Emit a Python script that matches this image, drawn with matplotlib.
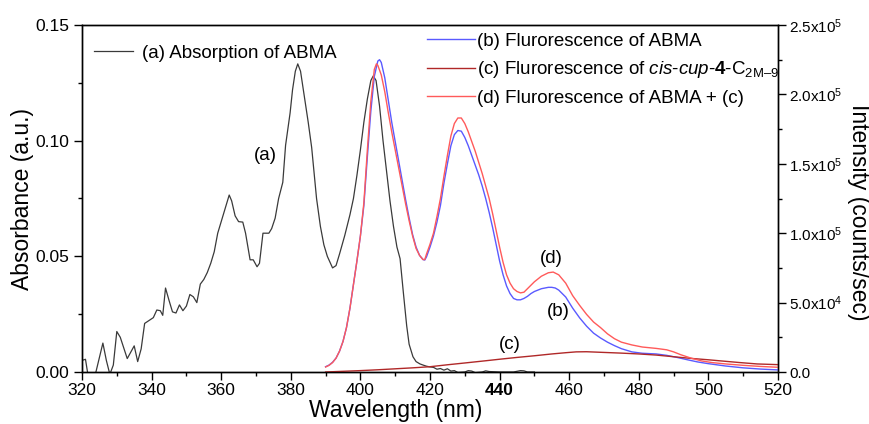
import matplotlib
matplotlib.use('Agg')
import matplotlib.pyplot as plt
from matplotlib.ticker import MultipleLocator

plt.rcParams['font.family'] = ['Liberation Sans', 'DejaVu Sans']
plt.rcParams['mathtext.fontset'] = 'custom'
plt.rcParams['mathtext.rm'] = 'Liberation Sans'
plt.rcParams['mathtext.it'] = 'Liberation Sans:italic'
plt.rcParams['mathtext.bf'] = 'Liberation Sans:bold'
plt.rcParams['mathtext.default'] = 'regular'

# (a) absorption of ABMA
wl_a = [320, 321, 322, 323.5, 324, 326, 327, 328, 329, 330, 331, 333, 335, 336, 337, 338,
        339.5, 340.5, 341.5, 342.5, 343.2, 344, 345, 346, 347, 348, 349, 350, 351, 352, 353,
        354, 355, 356, 357, 358, 359, 360, 361, 362.3, 363, 364, 365, 366.2, 367, 368.3, 369.2,
        370.3, 371, 372, 373.7, 374.5, 375.5, 376.5, 377.7, 378.5, 379.8, 380.5, 381.3, 382,
        382.8, 384, 385, 386, 387.4, 388.5, 389.5, 390.5, 392, 393, 394, 395.5, 397, 398, 399,
        400, 401, 402, 403, 403.7, 404.5, 405.5, 406.5, 407.5, 408.5, 409.5, 410.5, 411.4, 412.3,
        413.3, 414, 415.1, 416, 417.1, 418, 419, 420, 421, 422, 423, 424, 425, 426, 427, 428,
        430, 431, 432, 433, 435, 436, 437, 440, 444, 446, 447, 448, 450]
abs_a = [0.005, 0.0055, -0.004, -0.003, 0.0, 0.0125, 0.005, -0.001, 0.003, 0.0175, 0.015,
         0.0058, 0.0113, 0.0045, 0.010, 0.021, 0.0225, 0.0235, 0.0268, 0.0265, 0.0245, 0.0363,
         0.031, 0.026, 0.0255, 0.029, 0.0265, 0.0285, 0.0335, 0.0325, 0.030, 0.038, 0.040,
         0.043, 0.047, 0.052, 0.060, 0.065, 0.070, 0.0765, 0.074, 0.0675, 0.065, 0.0648, 0.060,
         0.0485, 0.0485, 0.0455, 0.047, 0.060, 0.060, 0.062, 0.0665, 0.075, 0.082, 0.098, 0.112,
         0.122, 0.130, 0.1332, 0.130, 0.118, 0.108, 0.097, 0.075, 0.063, 0.055, 0.050, 0.045,
         0.046, 0.051, 0.059, 0.068, 0.075, 0.085, 0.096, 0.108, 0.118, 0.126, 0.128, 0.126,
         0.115, 0.100, 0.087, 0.074, 0.063, 0.054, 0.049, 0.035, 0.020, 0.012, 0.0066, 0.0045,
         0.0035, 0.003, 0.0025, 0.0022, 0.002, 0.0012, 0.0015, 0.0008, 0.0014, 0.0004, 0.0006,
         -0.0002, 0.0, 0.0006, 0.0004, -0.0003, 0.0, 0.0005, 0.0002, 0.0, 0.0, 0.0006, 0.0005,
         0.0, 0.0]

# (b) fluorescence of ABMA
wl_b = [390, 391, 392, 393, 394, 395, 396, 397, 398, 399, 400, 401, 402, 403, 404, 405, 405.5,
        406, 407, 408, 409, 410, 411, 412, 413, 414, 415, 416, 417, 418, 418.5, 419, 420, 421,
        422, 423, 424, 425, 426, 427, 428, 429, 430, 431, 432, 433, 434, 435, 436, 437, 438,
        439, 440, 441, 442, 443, 444, 445, 446, 447, 448, 449, 450, 452, 454, 455, 456, 457,
        459, 461, 463, 465, 467, 469, 471, 473, 475, 478, 481, 485, 488, 491, 494, 497, 500,
        505, 510, 515, 520]
int_b = [3.8e3, 5.0e3, 7.0e3, 1.0e4, 1.5e4, 2.2e4, 3.2e4, 4.6e4, 6.3e4, 8.0e4, 9.8e4, 1.20e5,
         1.55e5, 1.88e5, 2.13e5, 2.24e5, 2.25e5, 2.23e5, 2.12e5, 1.96e5, 1.80e5, 1.66e5, 1.52e5,
         1.38e5, 1.24e5, 1.11e5, 9.9e4, 9.0e4, 8.4e4, 8.1e4, 8.07e4, 8.3e4, 9.0e4, 9.8e4, 1.08e5,
         1.20e5, 1.36e5, 1.50e5, 1.63e5, 1.71e5, 1.74e5, 1.735e5, 1.69e5, 1.63e5, 1.56e5, 1.49e5,
         1.42e5, 1.34e5, 1.25e5, 1.15e5, 1.04e5, 9.2e4, 8.0e4, 7.0e4, 6.2e4, 5.65e4, 5.3e4, 5.2e4,
         5.2e4, 5.3e4, 5.45e4, 5.65e4, 5.8e4, 6.0e4, 6.1e4, 6.1e4, 6.05e4, 5.9e4, 5.4e4, 4.6e4,
         3.9e4, 3.3e4, 2.8e4, 2.45e4, 2.15e4, 1.9e4, 1.68e4, 1.45e4, 1.35e4, 1.3e4, 1.2e4,
         1.05e4, 8.8e3, 7.2e3, 6.0e3, 4.3e3, 3.0e3, 2.1e3, 1.5e3]

# (c) fluorescence of cis-cup-4-C2M-9
wl_c = [390, 395, 400, 405, 410, 415, 420, 425, 430, 436, 440, 445, 450, 455, 459, 462, 465,
        470, 475, 480, 485, 490, 495, 500, 504, 509, 514, 520]
int_c = [0, 500, 1000, 1600, 2300, 3000, 3800, 5200, 6500, 8100, 9200, 10500, 11700, 13000,
         13900, 14500, 14600, 14100, 13600, 13000, 12200, 11000, 9800, 8800, 7900, 6800, 5800,
         5300]

# (d) fluorescence of ABMA + (c)
wl_d = [390, 391, 392, 393, 394, 395, 396, 397, 398, 399, 400, 401, 402, 403, 404, 404.6, 405,
        406, 407, 408, 409, 410, 411, 412, 413, 414, 415, 416, 417, 418, 418.5, 419, 420, 421,
        422, 423, 424, 425, 426, 427, 428, 429, 430, 431, 432, 433, 434, 435, 436, 437, 438,
        439, 440, 441, 442, 443, 444, 445, 446, 447, 448, 450, 452, 454, 455.4, 457, 459, 461,
        463, 465, 467, 469, 471, 473, 475, 478, 481, 485, 488, 490, 492, 495, 498, 501, 505,
        510, 515, 520]
int_d = [3.6e3, 4.8e3, 6.8e3, 1.0e4, 1.5e4, 2.2e4, 3.2e4, 4.6e4, 6.3e4, 8.0e4, 9.8e4, 1.22e5,
         1.60e5, 1.95e5, 2.18e5, 2.22e5, 2.21e5, 2.14e5, 2.02e5, 1.87e5, 1.73e5, 1.60e5, 1.47e5,
         1.34e5, 1.21e5, 1.09e5, 9.8e4, 8.9e4, 8.4e4, 8.1e4, 8.1e4, 8.5e4, 9.2e4, 1.0e5, 1.12e5,
         1.25e5, 1.41e5, 1.56e5, 1.70e5, 1.79e5, 1.83e5, 1.83e5, 1.79e5, 1.73e5, 1.66e5, 1.59e5,
         1.51e5, 1.43e5, 1.34e5, 1.25e5, 1.14e5, 1.02e5, 9.0e4, 7.9e4, 7.0e4, 6.4e4, 6.0e4,
         5.8e4, 5.7e4, 5.75e4, 6.0e4, 6.5e4, 6.9e4, 7.15e4, 7.2e4, 7.0e4, 6.4e4, 5.5e4, 4.8e4,
         4.15e4, 3.6e4, 3.2e4, 2.75e4, 2.4e4, 2.15e4, 1.95e4, 1.8e4, 1.7e4, 1.6e4, 1.45e4,
         1.25e4, 1.0e4, 8.0e3, 6.8e3, 5.8e3, 4.8e3, 4.0e3, 3.4e3]

x_ticks = [320, 340, 360, 380, 400, 420, 440, 460, 480, 500, 520]
abs_ticks = [0.00, 0.05, 0.10, 0.15]
abs_labels = ['0.00', '0.05', '0.10', '0.15']
int_ticks = [0, 5e4, 1e5, 1.5e5, 2e5, 2.5e5]
int_labels = ['0.0', '5.0x10$^4$', '1.0x10$^5$', '1.5x10$^5$', '2.0x10$^5$', '2.5x10$^5$']

labels = ['(a) Absorption of ABMA',
          '(b) Flurorescence of ABMA',
          '(c) Flurorescence of $\\mathit{cis}$-$\\mathit{cup}$-$\\mathbf{4}$-C$_{\\mathrm{2M\u20139}}$',
          '(d) Flurorescence of ABMA + (c)']
colors = ['#3a3a3a', '#5a5aff', '#b02828', '#ff5a5a']

fig = plt.figure(figsize=(8.7, 4.24), dpi=100)
ax = fig.add_axes([82 / 870, 52 / 424, 696 / 870, 347 / 424])
ax2 = ax.twinx()

la, = ax.plot(wl_a, abs_a, color=colors[0], lw=0.9)
lb, = ax2.plot(wl_b, int_b, color=colors[1], lw=1.0)
lc, = ax2.plot(wl_c, int_c, color=colors[2], lw=1.0)
ld, = ax2.plot(wl_d, int_d, color=colors[3], lw=1.0)

ax.set_xlim(320, 520)
ax.set_ylim(0, 0.15)
ax2.set_ylim(0, 2.5e5)

ax.set_xticks(x_ticks)
ax.xaxis.set_minor_locator(MultipleLocator(10))
ax.set_yticks(abs_ticks, abs_labels)
ax.yaxis.set_minor_locator(MultipleLocator(0.025))
ax2.set_yticks(int_ticks, int_labels)
ax2.yaxis.set_minor_locator(MultipleLocator(2.5e4))

for lab in ax.get_xticklabels():
    if lab.get_text() == '440':
        lab.set_fontweight('bold')

ax.tick_params(axis='both', which='major', direction='out', length=6, width=1, labelsize=12.5)
ax.tick_params(axis='both', which='minor', direction='out', length=3, width=1)
ax.tick_params(axis='x', pad=2)
ax.tick_params(axis='y', pad=3)
ax2.tick_params(axis='y', which='major', direction='out', length=6, width=1, labelsize=11, pad=2)
ax2.tick_params(axis='y', which='minor', direction='out', length=3, width=1)
for a in (ax, ax2):
    for s in a.spines.values():
        s.set_linewidth(1)

ax.set_xlabel('Wavelength (nm)', fontsize=16.5)
ax.xaxis.set_label_coords(0.451, -0.079)
ax.set_ylabel('Absorbance (a.u.)', fontsize=16.5)
ax.yaxis.set_label_coords(-0.069, 0.5)
ax2.set_ylabel('Intensity (counts/sec)', fontsize=16.5, rotation=270, va='center')
ax2.yaxis.set_label_coords(1.115, 0.46)

leg1 = ax2.legend([la], [labels[0]], loc='upper left', bbox_to_anchor=(0.017, 0.943),
                  frameon=False, fontsize=13.5, handlelength=2.1, handletextpad=0.45,
                  borderpad=0, borderaxespad=0)
ax2.add_artist(leg1)
ax2.legend([lb, lc, ld], labels[1:], loc='upper left', bbox_to_anchor=(0.4957, 0.978),
           frameon=False, fontsize=13.5, handlelength=2.55, handletextpad=0.1,
           labelspacing=0.5, borderpad=0, borderaxespad=0)

ax.text(372.6, 0.0938, '(a)', fontsize=13.5, ha='center', va='center')
ax2.text(454.9, 8.19e4, '(d)', fontsize=13.5, ha='center', va='center')
ax2.text(456.9, 4.34e4, '(b)', fontsize=13.5, ha='center', va='center')
ax2.text(443.0, 1.95e4, '(c)', fontsize=13.5, ha='center', va='center')

fig.savefig('out.png', dpi=100)
